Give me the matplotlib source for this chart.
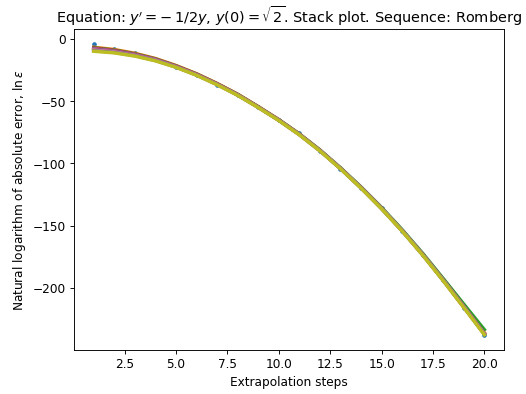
import numpy as np
import matplotlib
matplotlib.use("Agg")
import matplotlib.pyplot as plt

# -------------------------------------------------------------------------
# DATA
# -------------------------------------------------------------------------
steps = list(range(1, 21))

# measured ln(error) per extrapolation step
log_error = [-4.2, -7.8, -11.7, -16.3, -22.6, -29.4, -36.8, -45.0, -55.0, -65.0,
             -76.0, -90.0, -104.5, -120.0, -136.0, -154.0, -173.6, -194.0, -216.0, -238.0]

# stacked fitted curves, one per colour C1..C8
fit_c1 = [-6.8, -8.6, -11.6, -15.8, -21.4, -28.0, -35.8, -44.4, -54.4, -64.9,
          -76.4, -89.4, -103.8, -119.4, -136.0, -154.0, -173.3, -194.0, -215.5, -236.0]
fit_c2 = [-7.2, -9.0, -12.0, -16.1, -21.7, -28.2, -36.0, -44.6, -54.5, -64.9,
          -76.3, -89.2, -103.5, -118.9, -135.4, -153.2, -172.2, -192.5, -213.0, -233.5]
fit_c3 = [-7.5, -9.3, -12.3, -16.4, -21.9, -28.4, -36.2, -44.8, -54.7, -65.1,
          -76.6, -89.5, -103.9, -119.4, -136.0, -153.9, -173.0, -193.5, -214.8, -236.5]
fit_c4 = [-8.0, -9.7, -12.6, -16.6, -22.1, -28.6, -36.3, -44.9, -54.8, -65.2,
          -76.7, -89.6, -104.0, -119.5, -136.1, -154.0, -173.2, -193.7, -215.0, -236.8]
fit_c5 = [-8.5, -10.1, -12.9, -16.9, -22.3, -28.8, -36.5, -45.0, -54.9, -65.3,
          -76.8, -89.7, -104.1, -119.6, -136.2, -154.1, -173.3, -193.8, -215.2, -237.0]
fit_c6 = [-9.0, -10.5, -13.2, -17.1, -22.5, -28.9, -36.6, -45.1, -55.0, -65.4,
          -76.9, -89.8, -104.1, -119.6, -136.2, -154.1, -173.3, -193.8, -215.2, -237.0]
fit_c7 = [-9.5, -10.9, -13.5, -17.4, -22.7, -29.1, -36.7, -45.2, -55.0, -65.4,
          -76.9, -89.8, -104.2, -119.7, -136.3, -154.2, -173.4, -193.9, -215.4, -237.2]
fit_c8 = [-10.0, -11.3, -13.9, -17.7, -22.9, -29.3, -36.9, -45.4, -55.2, -65.6,
          -77.1, -90.0, -104.4, -119.9, -136.5, -154.4, -173.7, -194.3, -215.8, -237.6]

fits = [fit_c1, fit_c2, fit_c3, fit_c4, fit_c5, fit_c6, fit_c7, fit_c8]

# -------------------------------------------------------------------------
# PLOT
# -------------------------------------------------------------------------
plt.rcParams["font.size"] = 10.6

fig = plt.figure(figsize=(6.4, 4.8), dpi=526 / 6.4)
plt.subplots_adjust(left=0.141, right=0.958, top=0.924, bottom=0.112)

plt.plot(steps, log_error, ".", color="C0")
for i, fit in enumerate(fits):
    plt.plot(steps, fit, color=f"C{i + 1}", linewidth=3)

plt.title(r"Equation: $y' = -\,1/2y$, $y(0) = \sqrt{2}$. Stack plot. Sequence: Romberg")
plt.xlabel("Extrapolation steps")
plt.ylabel(r"Natural logarithm of absolute error, $\ln\varepsilon$")

plt.savefig("out.png")
